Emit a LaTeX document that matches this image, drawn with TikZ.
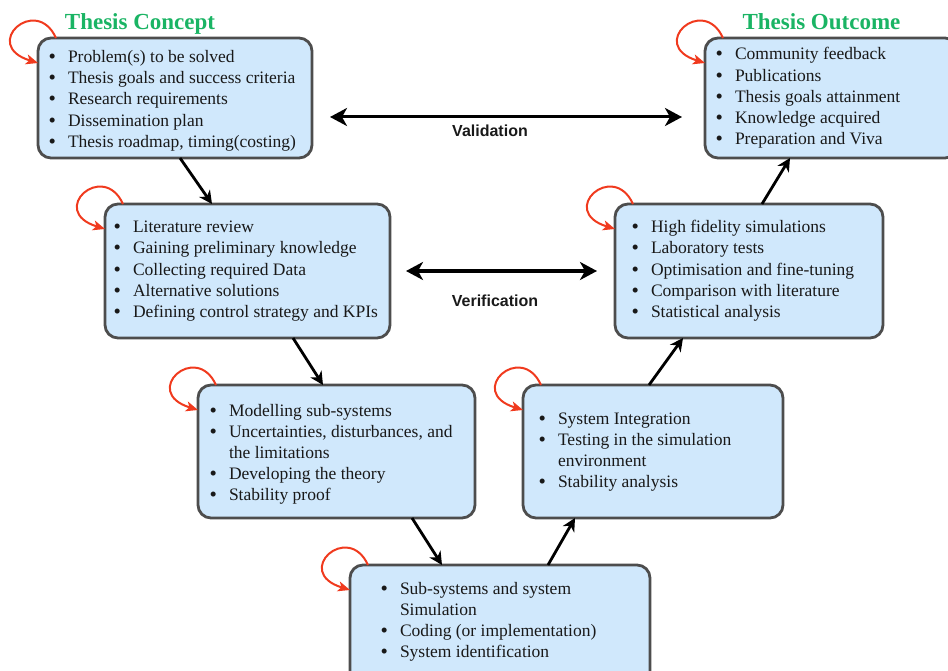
\documentclass[tikz,border=0pt]{standalone}
\usepackage{fontspec}
\setmainfont{Liberation Serif}
\newfontfamily\lsans{Liberation Sans}
\usetikzlibrary{arrows.meta}
\definecolor{boxfill}{RGB}{208,232,252}
\definecolor{boxline}{RGB}{77,77,77}
\definecolor{loopred}{RGB}{240,58,30}
\definecolor{titlegreen}{RGB}{26,180,100}
\definecolor{txt}{RGB}{25,25,25}
\newcommand{\itm}{\leavevmode\llap{\raisebox{-1pt}{\fontsize{21}{21}\selectfont\textbullet}\hspace{12pt}}}
\begin{document}
\begin{tikzpicture}[x=1pt,y=-1pt,
  box/.style={draw=boxline, line width=2.8pt, fill=boxfill, rounded corners=13pt, inner sep=0pt, outer sep=0pt},
  txtnode/.style={anchor=base west, inner sep=0pt, outer sep=0pt, text=txt, font=\fontsize{17.5}{21.2}\selectfont},
  conn/.style={line width=2.8pt, -{Stealth[length=13pt,width=13pt,inset=4pt]}},
  biconn/.style={line width=3pt, {Stealth[length=17pt,width=18pt,inset=5pt]}-{Stealth[length=17pt,width=18pt,inset=5pt]}},
  selfloop/.style={draw=loopred, line width=2pt, -{Stealth[length=12pt,width=10pt,inset=3pt]}},
  title/.style={anchor=base, inner sep=0pt, text=titlegreen, font=\fontsize{23}{26}\selectfont\bfseries},
  lbl/.style={inner sep=0pt, text=txt, font=\lsans\bfseries\fontsize{16}{19}\selectfont}]
\useasboundingbox (0,0) rectangle (948,671);

% boxes
\node[box, minimum width=274pt, minimum height=120pt] (b1) at (175,98) {};
\node[box, minimum width=253pt, minimum height=120pt] (b2) at (831.5,98) {};
\node[box, minimum width=285pt, minimum height=134pt] (b3) at (247.5,271) {};
\node[box, minimum width=268pt, minimum height=134pt] (b4) at (749,271) {};
\node[box, minimum width=277pt, minimum height=133pt] (b5) at (336.5,451.5) {};
\node[box, minimum width=260pt, minimum height=133pt] (b6) at (653,451.5) {};
\node[box, minimum width=300pt, minimum height=130pt] (b7) at (500,630) {};

% titles
\node[title] (title1) at (140,30) {Thesis Concept};
\node[title] (title2) at (821.5,30) {Thesis Outcome};

% texts
\node[txtnode] (t1) at (68,62.5) {\begin{minipage}[t]{260pt}
\itm Problem(s) to be solved\\
\itm Thesis goals and success criteria\\
\itm Research requirements\\
\itm Dissemination plan\\
\itm Thesis roadmap, timing(costing)\end{minipage}};

\node[txtnode] (t2) at (735,60) {\begin{minipage}[t]{220pt}
\itm Community feedback\\
\itm Publications\\
\itm Thesis goals attainment\\
\itm Knowledge acquired\\
\itm Preparation and Viva\end{minipage}};

\node[txtnode] (t3) at (133,232.7) {\begin{minipage}[t]{260pt}
\itm Literature review\\
\itm Gaining preliminary knowledge\\
\itm Collecting required Data\\
\itm Alternative solutions\\
\itm Defining control strategy and KPIs\end{minipage}};

\node[txtnode] (t4) at (651,232.7) {\begin{minipage}[t]{230pt}
\itm High fidelity simulations\\
\itm Laboratory tests\\
\itm Optimisation and fine-tuning\\
\itm Comparison with literature\\
\itm Statistical analysis\end{minipage}};

\node[txtnode] (t5) at (229,416) {\begin{minipage}[t]{240pt}
\itm Modelling sub-systems\\
\itm Uncertainties, disturbances, and\\
the limitations\\
\itm Developing the theory\\
\itm Stability proof\end{minipage}};

\node[txtnode] (t6) at (558,424) {\begin{minipage}[t]{220pt}
\itm System Integration\\
\itm Testing in the simulation\\
environment\\
\itm Stability analysis\end{minipage}};

\node[txtnode] (t7) at (400,594) {\begin{minipage}[t]{240pt}
\itm Sub-systems and system\\
Simulation\\
\itm Coding (or implementation)\\
\itm System identification\end{minipage}};

% self loops
\foreach \b in {b1,b2,b3,b4,b5,b6,b7}{
  \draw[selfloop] ([xshift=18pt]\b.north west) .. controls +(-20,-44) and +(-58,-18) .. ([yshift=-25pt]\b.north west);
}

% flow arrows
\draw[conn] ([xshift=142pt]b1.south west) -- ([xshift=107pt]b3.north west);
\draw[conn] ([xshift=188pt]b3.south west) -- ([xshift=125pt]b5.north west);
\draw[conn] ([xshift=214pt]b5.south west) -- ([xshift=92pt]b7.north west);
\draw[conn] ([xshift=198pt]b7.north west) -- ([xshift=52pt]b6.south west);
\draw[conn] ([xshift=126pt]b6.north west) -- ([xshift=68pt]b4.south west);
\draw[conn] ([xshift=147pt]b4.north west) -- ([xshift=85pt]b2.south west);

% validation / verification
\coordinate (vl) at (330,117);
\coordinate (vr) at (682,117);
\draw[biconn] (vl) -- (vr);
\node[lbl] (vlab) at (490,131) {Validation};
\coordinate (wl) at (406,271);
\coordinate (wr) at (597,271);
\draw[biconn] (wl) -- (wr);
\node[lbl] (wlab) at (495,301) {Verification};
\end{tikzpicture}
\end{document}
